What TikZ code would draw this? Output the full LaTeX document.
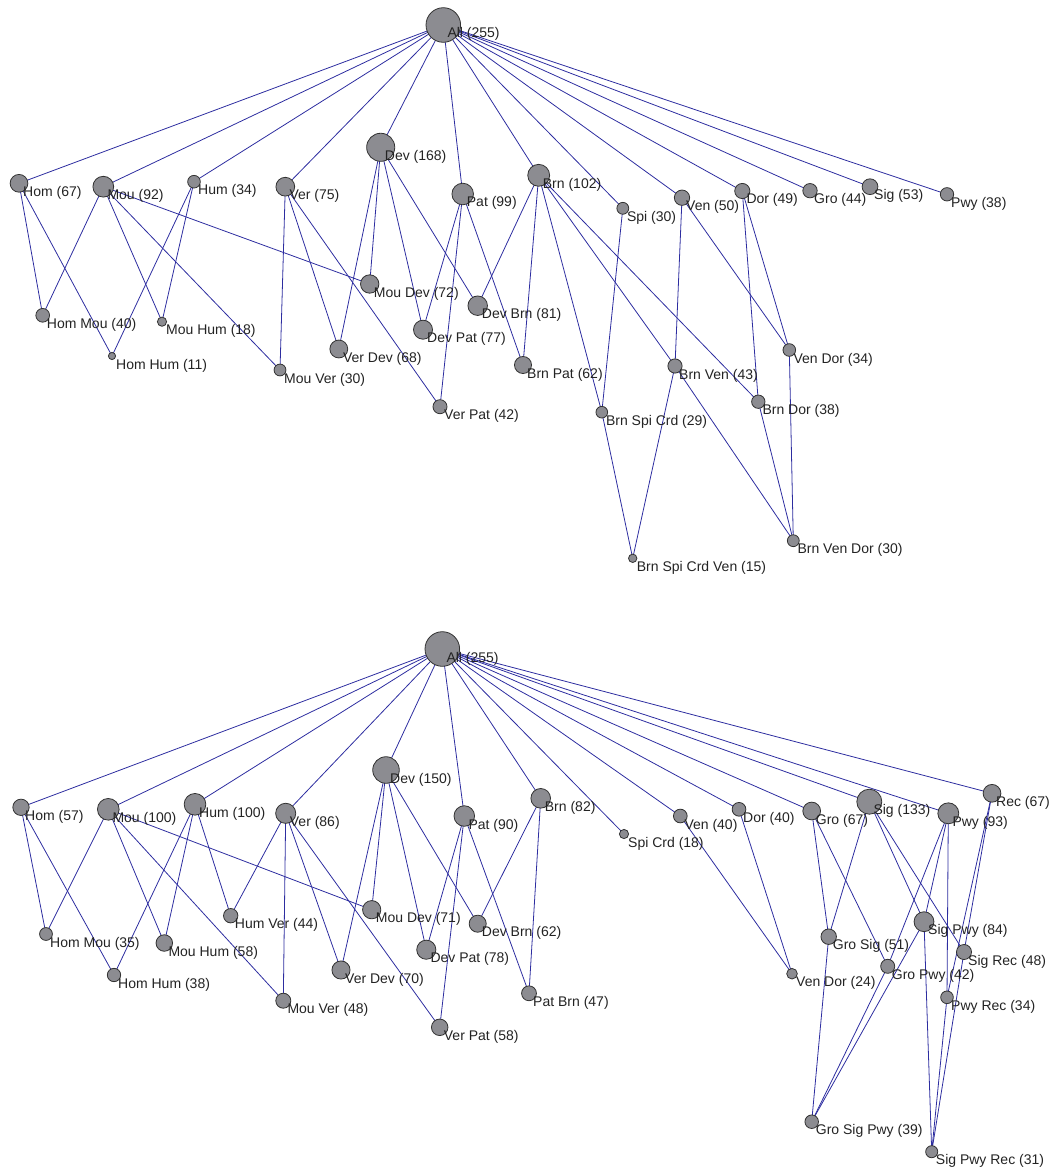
\documentclass[tikz,border=0pt]{standalone}
\usepackage{fontspec}
\setmainfont{Liberation Sans}
\usetikzlibrary{backgrounds}
\definecolor{edgec}{RGB}{45,45,160}
\definecolor{vfill}{RGB}{140,140,145}
\definecolor{vborder}{RGB}{50,50,50}
\definecolor{labc}{RGB}{35,35,35}
\newcommand\vx[5]{%
  \node[vtx=#4] (#1) at (#2,#3) {};
  \node[lbl] (#1l) at (#2+4,#3+13) {#5};}
\begin{document}
\begin{tikzpicture}[x=1pt,y=-1pt,
  vtx/.style={circle,draw=vborder,fill=vfill,line width=0.8pt,inner sep=0pt,
    minimum size={sqrt(#1)*2.167pt}},
  lbl/.style={anchor=base west,inner sep=0pt,font=\fontsize{14}{16}\selectfont,text=labc},
  edge/.style={draw=edgec,line width=0.8pt}]
\useasboundingbox (0,0) rectangle (1053,1169);
% ---------- top lattice ----------
\vx{tAll}{443.3}{25}{255}{All (255)}
\vx{tHom}{19}{183.3}{67}{Hom (67)}
\vx{tMou}{103.3}{186.7}{92}{Mou (92)}
\vx{tHum}{194}{181.7}{34}{Hum (34)}
\vx{tVer}{285.3}{186.7}{75}{Ver (75)}
\vx{tDev}{380.7}{147.3}{168}{Dev (168)}
\vx{tPat}{462.7}{194}{99}{Pat (99)}
\vx{tBrn}{538.7}{175.3}{102}{Brn (102)}
\vx{tSpi}{622.8}{208.3}{30}{Spi (30)}
\vx{tVen}{682}{197.7}{50}{Ven (50)}
\vx{tDor}{742.3}{191}{49}{Dor (49)}
\vx{tGro}{810}{190.7}{44}{Gro (44)}
\vx{tSig}{870}{186.7}{53}{Sig (53)}
\vx{tPwy}{947}{194.3}{38}{Pwy (38)}
\vx{tHomMou}{42.7}{315.3}{40}{Hom Mou (40)}
\vx{tMouHum}{162}{321.7}{18}{Mou Hum (18)}
\vx{tHomHum}{112}{356}{11}{Hom Hum (11)}
\vx{tMouVer}{280}{370}{30}{Mou Ver (30)}
\vx{tVerDev}{338.8}{349}{68}{Ver Dev (68)}
\vx{tMouDev}{369.7}{284}{72}{Mou Dev (72)}
\vx{tDevPat}{423}{329.7}{77}{Dev Pat (77)}
\vx{tDevBrn}{477.7}{305.7}{81}{Dev Brn (81)}
\vx{tBrnPat}{523}{365}{62}{Brn Pat (62)}
\vx{tVerPat}{440}{406.7}{42}{Ver Pat (42)}
\vx{tBrnSpiCrd}{601.8}{412.2}{29}{Brn Spi Crd (29)}
\vx{tBrnVen}{675}{366}{43}{Brn Ven (43)}
\vx{tVenDor}{789.3}{350}{34}{Ven Dor (34)}
\vx{tBrnDor}{758.3}{401.7}{38}{Brn Dor (38)}
\vx{tBrnSpiCrdVen}{632.7}{558.3}{15}{Brn Spi Crd Ven (15)}
\vx{tBrnVenDor}{793.3}{540.7}{30}{Brn Ven Dor (30)}
% ---------- bottom lattice ----------
\vx{bAll}{442.3}{649}{255}{All (255)}
\vx{bHom}{21}{807.3}{57}{Hom (57)}
\vx{bMou}{108.3}{809.3}{100}{Mou (100)}
\vx{bHum}{195}{804.3}{100}{Hum (100)}
\vx{bVer}{285.7}{813.3}{86}{Ver (86)}
\vx{bDev}{386}{770}{150}{Dev (150)}
\vx{bPat}{464.3}{816}{90}{Pat (90)}
\vx{bBrn}{540.7}{798.3}{82}{Brn (82)}
\vx{bSpiCrd}{624}{834}{18}{Spi Crd (18)}
\vx{bVen}{680.3}{816}{40}{Ven (40)}
\vx{bDor}{739}{809.3}{40}{Dor (40)}
\vx{bGro}{811.7}{811}{67}{Gro (67)}
\vx{bSig}{869.3}{801.7}{133}{Sig (133)}
\vx{bPwy}{948.3}{813.3}{93}{Pwy (93)}
\vx{bRec}{992}{793.3}{67}{Rec (67)}
\vx{bHomMou}{46}{934}{35}{Hom Mou (35)}
\vx{bMouHum}{164.3}{943}{58}{Mou Hum (58)}
\vx{bHomHum}{114}{975}{38}{Hom Hum (38)}
\vx{bHumVer}{230.7}{915.7}{44}{Hum Ver (44)}
\vx{bVerDev}{341}{970}{70}{Ver Dev (70)}
\vx{bMouVer}{283.3}{1000.7}{48}{Mou Ver (48)}
\vx{bMouDev}{371.7}{909.7}{71}{Mou Dev (71)}
\vx{bDevBrn}{477.7}{923.7}{62}{Dev Brn (62)}
\vx{bDevPat}{426.3}{949.7}{78}{Dev Pat (78)}
\vx{bPatBrn}{529}{993.3}{47}{Pat Brn (47)}
\vx{bVerPat}{439.7}{1027.3}{58}{Ver Pat (58)}
\vx{bVenDor}{792}{973.7}{24}{Ven Dor (24)}
\vx{bGroSig}{828.7}{936.7}{51}{Gro Sig (51)}
\vx{bGroPwy}{887.7}{966.3}{42}{Gro Pwy (42)}
\vx{bSigPwy}{924}{921.7}{84}{Sig Pwy (84)}
\vx{bSigRec}{964}{952}{48}{Sig Rec (48)}
\vx{bPwyRec}{947}{997.3}{34}{Pwy Rec (34)}
\vx{bGroSigPwy}{811.7}{1121.7}{39}{Gro Sig Pwy (39)}
\vx{bSigPwyRec}{931.7}{1151.7}{31}{Sig Pwy Rec (31)}
% ---------- edges ----------
\begin{scope}[on background layer]
\foreach \a/\b in {tAll/tHom,tAll/tMou,tAll/tHum,tAll/tVer,tAll/tDev,tAll/tPat,tAll/tBrn,
  tAll/tSpi,tAll/tVen,tAll/tDor,tAll/tGro,tAll/tSig,tAll/tPwy,
  tHom/tHomMou,tMou/tHomMou,tHom/tHomHum,tHum/tHomHum,tMou/tMouHum,tHum/tMouHum,
  tMou/tMouVer,tVer/tMouVer,tMou/tMouDev,tDev/tMouDev,tVer/tVerDev,tDev/tVerDev,
  tVer/tVerPat,tPat/tVerPat,tDev/tDevPat,tPat/tDevPat,tDev/tDevBrn,tBrn/tDevBrn,
  tBrn/tBrnPat,tPat/tBrnPat,tBrn/tBrnSpiCrd,tSpi/tBrnSpiCrd,tBrn/tBrnVen,tVen/tBrnVen,
  tBrn/tBrnDor,tDor/tBrnDor,tVen/tVenDor,tDor/tVenDor,
  tBrnSpiCrd/tBrnSpiCrdVen,tBrnVen/tBrnSpiCrdVen,
  tBrnVen/tBrnVenDor,tBrnDor/tBrnVenDor,tVenDor/tBrnVenDor,
  bAll/bHom,bAll/bMou,bAll/bHum,bAll/bVer,bAll/bDev,bAll/bPat,bAll/bBrn,bAll/bSpiCrd,
  bAll/bVen,bAll/bDor,bAll/bGro,bAll/bSig,bAll/bPwy,bAll/bRec,
  bHom/bHomMou,bMou/bHomMou,bHom/bHomHum,bHum/bHomHum,bMou/bMouHum,bHum/bMouHum,
  bHum/bHumVer,bVer/bHumVer,bMou/bMouVer,bVer/bMouVer,bMou/bMouDev,bDev/bMouDev,
  bVer/bVerDev,bDev/bVerDev,bVer/bVerPat,bPat/bVerPat,bDev/bDevPat,bPat/bDevPat,
  bDev/bDevBrn,bBrn/bDevBrn,bPat/bPatBrn,bBrn/bPatBrn,bVen/bVenDor,bDor/bVenDor,
  bGro/bGroSig,bSig/bGroSig,bGro/bGroPwy,bPwy/bGroPwy,bSig/bSigPwy,bPwy/bSigPwy,
  bSig/bSigRec,bRec/bSigRec,bPwy/bPwyRec,bRec/bPwyRec,
  bGroSig/bGroSigPwy,bGroPwy/bGroSigPwy,bSigPwy/bGroSigPwy,
  bSigPwy/bSigPwyRec,bSigRec/bSigPwyRec,bPwyRec/bSigPwyRec}
  \draw[edge] (\a.center) -- (\b.center);
\end{scope}
\end{tikzpicture}
\end{document}
